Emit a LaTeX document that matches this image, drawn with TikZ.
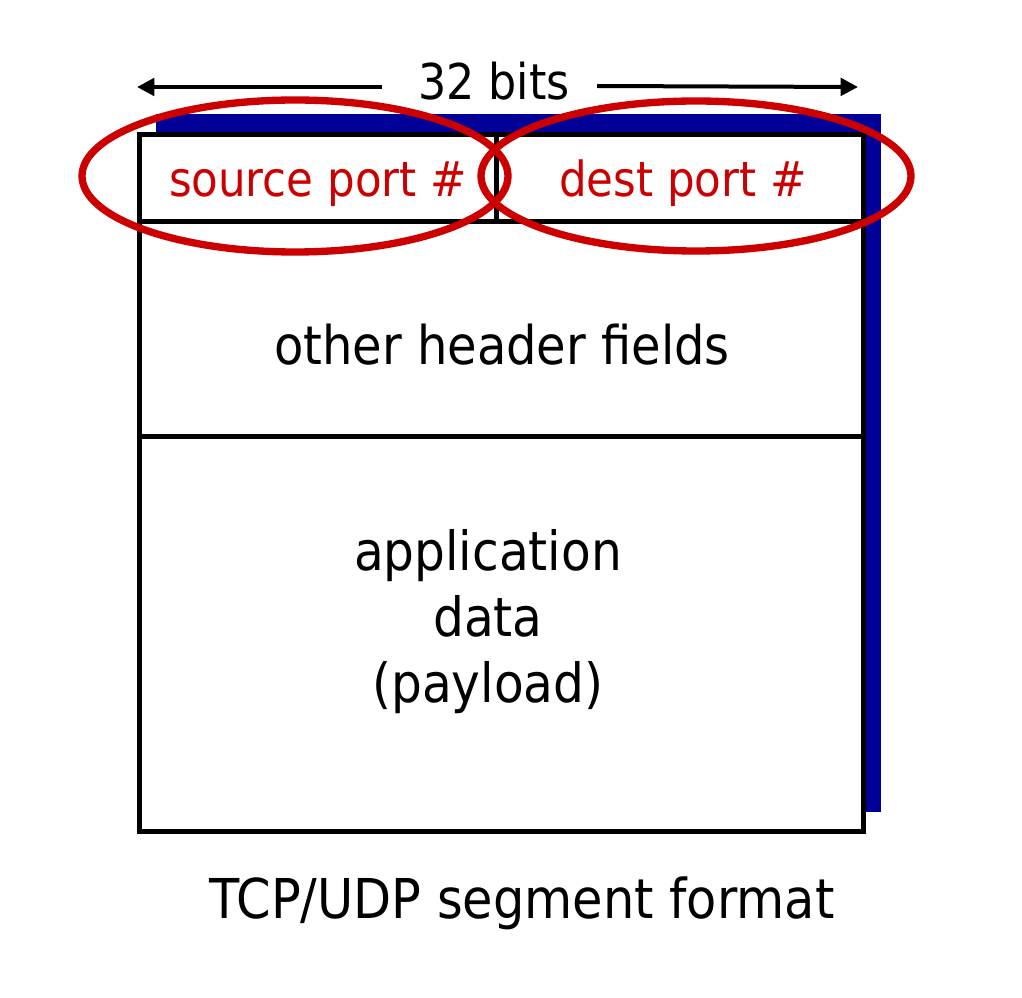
\documentclass[tikz,border=0pt]{standalone}
\usepackage{fontspec}
\setmainfont{DejaVu Sans Condensed}
\usetikzlibrary{arrows.meta}
\definecolor{portred}{RGB}{204,0,0}
\definecolor{shadowblue}{RGB}{0,0,153}
\tikzset{
  cell/.style={draw=black, line width=3.75pt},
  bodytext/.style={font=\fontsize{40.5}{49.5}\selectfont, anchor=base, inner sep=0pt, align=center},
  porttext/.style={font=\fontsize{36.3}{43}\selectfont, text=portred, anchor=base, inner sep=0pt},
  ring/.style={draw=portred, line width=5.5pt},
  span/.style={line width=3pt, -{Triangle[length=13pt, width=13pt]}},
}
\begin{document}
\begin{tikzpicture}[x=0.75pt, y=-0.75pt]
\useasboundingbox (0,0) rectangle (1022,998);
% blue drop shadow behind the segment
\fill[shadowblue] (156,114) rectangle (881,812);
% segment outline and fields
\fill[white] (139.5,134.5) rectangle (863.5,831.5);
\node[cell, minimum width=356.5*0.75pt, minimum height=87*0.75pt] (src) at (317.75,178) {};
\node[cell, minimum width=367.5*0.75pt, minimum height=87*0.75pt] (dst) at (679.75,178) {};
\node[cell, minimum width=724*0.75pt, minimum height=215.5*0.75pt] (hdr) at (501.5,329.25) {};
\node[cell, minimum width=724*0.75pt, minimum height=394.5*0.75pt] (data) at (501.5,634.25) {};
% field labels
\node[porttext] (srctxt) at (318,197) {source port \#};
\node[porttext] (dsttxt) at (683,197) {dest port \#};
\node[bodytext, font=\fontsize{40}{49.5}\selectfont] (hdrtxt) at (502,365) {other header fields};
\node[bodytext, anchor=north] (datatxt) at (488,529) {application\\data\\(payload)};
\node[bodytext, font=\fontsize{41.2}{49.5}\selectfont] (caption) at (522,918) {TCP/UDP segment format};
% width indicator
\node[font=\fontsize{37}{44}\selectfont, anchor=base, inner sep=0pt] (bits) at (494,100) {32 bits};
\coordinate (lefttip) at (137,87);
\coordinate (righttip) at (858,87);
\draw[span] (382,87) -- (lefttip);
\draw[span] (597,86) -- (righttip);
% highlight rings around the port fields
\draw[ring] (295,176) ellipse [x radius=213, y radius=76];
\draw[ring] (696,176) ellipse [x radius=215, y radius=75];
\end{tikzpicture}
\end{document}
